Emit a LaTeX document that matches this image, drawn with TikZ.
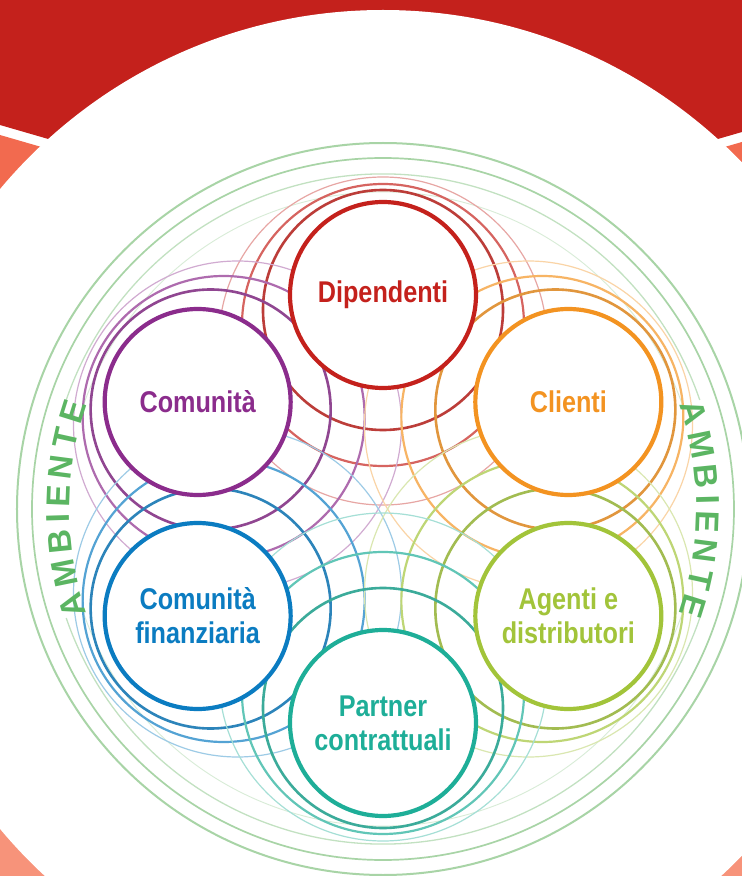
\documentclass[tikz,border=0pt]{standalone}
\usepackage{fontspec}
\setmainfont{Liberation Sans}[FakeStretch=0.84]
\newfontfamily\ambfont{Liberation Sans}
\usepackage{tikz}

\definecolor{bandred}{HTML}{C4211C}
\definecolor{bandcoral}{HTML}{F26A4F}
\definecolor{bandsalmon}{HTML}{F7937A}
\definecolor{dipred}{HTML}{C4211C}
\definecolor{comviola}{HTML}{8B2C8C}
\definecolor{cliorange}{HTML}{F39321}
\definecolor{finblu}{HTML}{0B7CC1}
\definecolor{agelime}{HTML}{A2C43A}
\definecolor{parteal}{HTML}{1EAE98}
\definecolor{ambgreen}{HTML}{5BB562}
\definecolor{ringgreen}{HTML}{A8D4A6}

\begin{document}
\begin{tikzpicture}[x=1pt,y=1pt,
    group/.style={circle,draw=#1,line width=4.2pt,fill=white,minimum size=186pt,
      inner sep=0pt,text=#1,align=center,font=\bfseries\fontsize{30}{34}\selectfont},
    amb/.style={inner sep=0pt,text=ambgreen,font=\ambfont\bfseries\fontsize{33}{33}\selectfont}]
    \useasboundingbox (-383,-367) rectangle (359,509);
    \clip (-383,-367) rectangle (359,509);
    % fascia esterna
    \fill[bandred] (-383,509) -- (359,509) -- (359,377) -- (0,273) -- (-383,384) -- cycle;
    \fill[bandcoral] (-383,374) -- (0,263) -- (383,374) -- (383,0) -- (-383,0) -- cycle;
    \fill[bandsalmon] (-383,0) rectangle (383,-367);
    \fill[white] (0,0) circle (499);
    % anelli ambiente
    \draw[ringgreen,line width=2pt] (0,0) circle (366);
    \draw[ringgreen,line width=1.7pt] (0,0) circle (351);
    \draw[ringgreen!70!white,line width=1.3pt] (19:335) arc[start angle=19,end angle=161,radius=335];
    \draw[ringgreen!70!white,line width=1.3pt] (199:335) arc[start angle=199,end angle=341,radius=335];
    \draw[ringgreen!45!white,line width=0.9pt] (19:317) arc[start angle=19,end angle=161,radius=317];
    \draw[ringgreen!45!white,line width=0.9pt] (199:317) arc[start angle=199,end angle=341,radius=317];
    % anelli dei gruppi
    \foreach \a/\c in {90/dipred,150/comviola,30/cliorange,210/finblu,-30/agelime,-90/parteal} {
      \draw[\c!40!white,line width=1.2pt] (\a:168) circle (164);
      \draw[\c!70!white,line width=2.2pt] (\a:184) circle (141);
      \draw[\c!85!white!92!black,line width=2.6pt] (\a:199) circle (120);
    }
    \node[group=dipred] (dip) at (90:214) {Dipendenti};
    \node[group=comviola] (com) at (150:214) {Comunità};
    \node[group=cliorange] (cli) at (30:214) {Clienti};
    \node[group=finblu] (fin) at (210:214) {Comunità\\finanziaria};
    \node[group=agelime] (age) at (-30:214) {Agenti e\\distributori};
    \node[group=parteal] (par) at (-90:214) {Partner\\contrattuali};
    % scritta ambiente
    \foreach \l/\o [count=\i] in {A/-17.2,M/-11.5,B/-5.8,I/-1.7,E/2.2,N/7.4,T/12.5,E/17.4} {
      \node[amb,rotate=90-\o] (ambL\i) at (180-\o:325) {\l};
      \node[amb,rotate=-90-\o] (ambR\i) at (-\o:325) {\l};
    }
\end{tikzpicture}
\end{document}
